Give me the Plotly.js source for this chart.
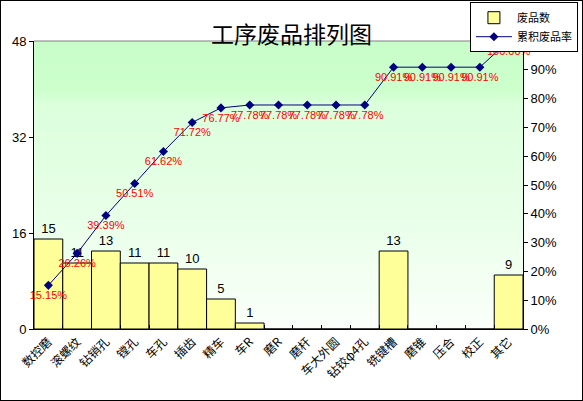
<!DOCTYPE html>
<html><head><meta charset="utf-8">
<script src="https://cdn.plot.ly/plotly-3.0.1.min.js"></script>
<style>html,body{margin:0;padding:0;background:#fff}#c{width:581px;height:399px;border:1px solid #000}</style>
</head><body><div id="c"></div>
<script>
var categories = ['数控磨','滚螺纹','钻销孔','镗孔','车孔','插齿','精车','车R','磨R','磨杆','车大外圆','钻铰φ4孔','铣键槽','磨锥','压合','校正','其它'];
var scrapCounts = [15,11,13,11,11,10,5,1,0,0,0,0,13,0,0,0,9];
var cumulativeRate = [0.1515,0.2626,0.3939,0.5051,0.6162,0.7172,0.7677,0.7778,0.7778,0.7778,0.7778,0.7778,0.9091,0.9091,0.9091,0.9091,1.0000];
var rateLabels = ['15.15%','26.26%','39.39%','50.51%','61.62%','71.72%','76.77%','77.78%','77.78%','77.78%','77.78%','77.78%','90.91%','90.91%','90.91%','90.91%','100.00%'];
var countLabels = scrapCounts.map(function(v){return v>0?String(v):'';});

var grad = 'data:image/svg+xml;charset=utf-8,' + encodeURIComponent(
 '<svg xmlns="http://www.w3.org/2000/svg" width="100" height="100" preserveAspectRatio="none">' +
 '<defs><linearGradient id="g" x1="0" y1="0" x2="0" y2="1">' +
 '<stop offset="0" stop-color="#c8fcc8"/><stop offset="0.17" stop-color="#ccffcc"/>' +
 '<stop offset="0.22" stop-color="#dcffdc"/><stop offset="0.6" stop-color="#e8ffe8"/><stop offset="1" stop-color="#fbfffb"/>' +
 '</linearGradient></defs><rect width="100" height="100" fill="url(#g)"/></svg>');

var bar = {
  type:'bar', name:'废品数', x:categories, y:scrapCounts,
  marker:{color:'#ffff99', line:{color:'#000', width:1}},
  text:countLabels, textposition:'outside', cliponaxis:false,
  textfont:{family:'Arial, Liberation Sans', size:13, color:'#000'},
  hoverinfo:'x+y'
};
var line = {
  type:'scatter', mode:'lines+markers+text', name:'累积废品率', x:categories, y:cumulativeRate,
  yaxis:'y2', line:{color:'#000080', width:1},
  marker:{symbol:'diamond', size:7, color:'#000080'},
  text:rateLabels, textposition:'bottom center', cliponaxis:false,
  textfont:{family:'Arial, Liberation Sans', size:11, color:'#ff0000'}
};
var layout = {
  width:581, height:399,
  margin:{l:33, r:59, t:40, b:71, pad:0, autoexpand:false},
  paper_bgcolor:'#fff', plot_bgcolor:'rgba(0,0,0,0)',
  showlegend:true,
  title:{text:'工序废品排列图', font:{family:'Noto Sans CJK SC', size:23, color:'#000'}, x:0.5, xanchor:'center', xref:'container', y:0.915, yanchor:'middle'},
  bargap:0,
  xaxis:{type:'category', range:[-0.5,16.5], autorange:false, automargin:false, tickangle:-45, tickson:'boundaries', ticks:'inside', ticklen:4, tickcolor:'#000',
    showline:true, linecolor:'#000', linewidth:1, mirror:false, showgrid:false,
    tickfont:{family:'Noto Sans CJK SC', size:12, color:'#000'}, fixedrange:true},
  yaxis:{range:[0,48], autorange:false, automargin:false, dtick:16, tick0:0, ticks:'outside', ticklen:4, tickcolor:'#000',
    showline:true, linecolor:'#000', showgrid:false, zeroline:false,
    tickfont:{family:'Arial, Liberation Sans', size:13, color:'#000'}},
  yaxis2:{overlaying:'y', side:'right', range:[0,1], autorange:false, automargin:false, dtick:0.1, tick0:0, tickformat:'.0%',
    ticks:'outside', ticklen:4, tickcolor:'#000', showline:true, linecolor:'#000', showgrid:false, zeroline:false,
    tickfont:{family:'Arial, Liberation Sans', size:13, color:'#000'}},
  legend:{xref:'container', yref:'container', x:0.993, xanchor:'right', y:0.997, yanchor:'top', bgcolor:'#fff', bordercolor:'#000', borderwidth:1,
    font:{family:'Noto Sans CJK SC', size:11, color:'#000'}, tracegroupgap:0, itemwidth:36},
  shapes:[{type:'line', xref:'paper', yref:'paper', x0:0, x1:1, y0:1, y1:1, line:{color:'#808080', width:1}}],
  images:[{source:grad, xref:'paper', yref:'paper', x:0, y:1, sizex:1, sizey:1, sizing:'stretch', xanchor:'left', yanchor:'top', layer:'below'}]
};
Plotly.newPlot('c', [bar, line], layout, {displayModeBar:false, staticPlot:true});
</script></body></html>
